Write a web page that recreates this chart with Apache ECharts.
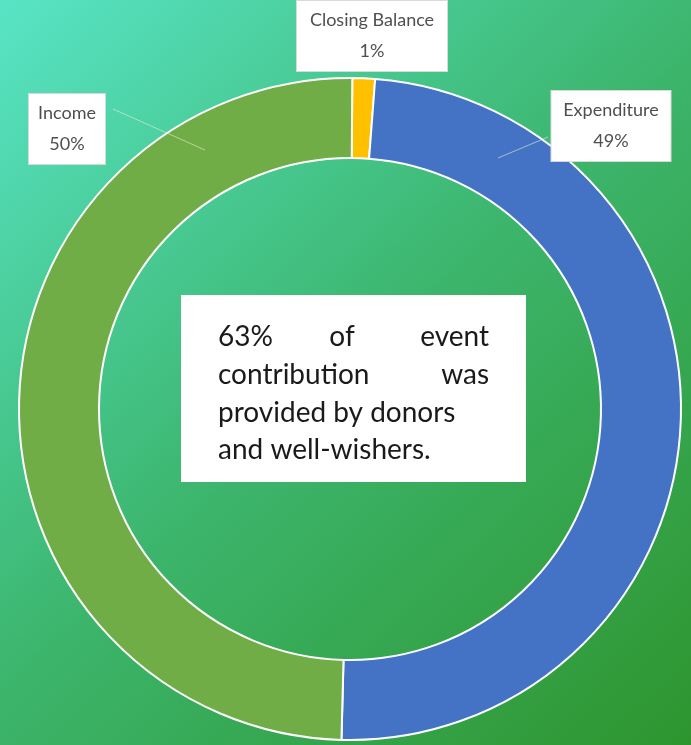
<!DOCTYPE html>
<html>
<head>
<meta charset="utf-8">
<script src="https://cdn.jsdelivr.net/npm/echarts@6/dist/echarts.min.js"></script>
<style>
  html, body { margin: 0; padding: 0; }
  #chart_id { width: 691px; height: 745px; }
</style>
</head>
<body>
<div id="chart_id"></div>
<script>
// slices, clockwise from the top
var categories = ['Closing Balance', 'Expenditure', 'Income'];
var shares = [1.1, 49.2, 49.7];
var sliceColors = ['#ffc000', '#4472c4', '#70ad47'];

// where the label boxes sit and where their leader lines run
var labelSpots = [
  { x: 372, y: 36, w: 130, line: null },
  { x: 611, y: 126, w: 99, line: [[498, 158], [548, 137]] },
  { x: 67, y: 129, w: 56, line: [[205, 150], [113, 109]] }
];

var chart = echarts.init(document.getElementById('chart_id'));

// leader lines drawn on top of the ring
var leaderLines = labelSpots.filter(function (s) { return s.line; }).map(function (s) {
  return {
    type: 'polyline',
    z: 100,
    silent: true,
    shape: { points: s.line },
    style: { stroke: 'rgba(230,240,210,0.6)', lineWidth: 1, fill: null }
  };
});

var option = {
  animation: false,
  backgroundColor: new echarts.graphic.LinearGradient(0, 0, 1, 1, [
    { offset: 0, color: '#58e4c6' },
    { offset: 0.5, color: '#3cb56c' },
    { offset: 1, color: '#2e952e' }
  ]),
  graphic: [
    {
      type: 'group',
      left: 181,
      top: 295,
      children: [
        { type: 'rect', shape: { x: 0, y: 0, width: 345, height: 187 }, style: { fill: '#ffffff' } },
        { type: 'text', x: 37, y: 42, style: { text: '63%', font: '28px Lato', fill: '#1a1a1a', align: 'left', verticalAlign: 'middle' } },
        { type: 'text', x: 161, y: 42, style: { text: 'of', font: '28px Lato', fill: '#1a1a1a', align: 'center', verticalAlign: 'middle' } },
        { type: 'text', x: 308, y: 42, style: { text: 'event', font: '28px Lato', fill: '#1a1a1a', align: 'right', verticalAlign: 'middle' } },
        { type: 'text', x: 37, y: 80, style: { text: 'contribution', font: '28px Lato', fill: '#1a1a1a', align: 'left', verticalAlign: 'middle' } },
        { type: 'text', x: 308, y: 80, style: { text: 'was', font: '28px Lato', fill: '#1a1a1a', align: 'right', verticalAlign: 'middle' } },
        { type: 'text', x: 37, y: 118, style: { text: 'provided by donors', font: '28px Lato', fill: '#1a1a1a', align: 'left', verticalAlign: 'middle' } },
        { type: 'text', x: 37, y: 155, style: { text: 'and well-wishers.', font: '28px Lato', fill: '#1a1a1a', align: 'left', verticalAlign: 'middle' } }
      ]
    }
  ].concat(leaderLines),
  series: [
    {
      type: 'pie',
      center: [350, 409],
      radius: [251, 331],
      startAngle: 89.6,
      clockwise: true,
      itemStyle: { borderColor: '#ffffff', borderWidth: 2 },
      label: {
        show: true,
        position: 'outside',
        formatter: function (p) {
          return p.name + '\n' + Math.round(p.percent) + '%';
        },
        overflow: 'none',
        fontFamily: 'Lato',
        fontSize: 18,
        lineHeight: 31,
        color: '#4f4f4f',
        backgroundColor: '#ffffff',
        borderColor: '#d9d9d9',
        borderWidth: 1,
        padding: [4, 10],
        align: 'center'
      },
      labelLine: { show: false },
      labelLayout: function (params) {
        var spot = labelSpots[params.dataIndex];
        return { x: spot.x, y: spot.y, align: 'center', verticalAlign: 'middle' };
      },
      data: categories.map(function (name, i) {
        return {
          name: name,
          value: shares[i],
          itemStyle: { color: sliceColors[i] },
          label: { width: labelSpots[i].w, align: 'center' }
        };
      })
    }
  ]
};

chart.setOption(option);
</script>
</body>
</html>
